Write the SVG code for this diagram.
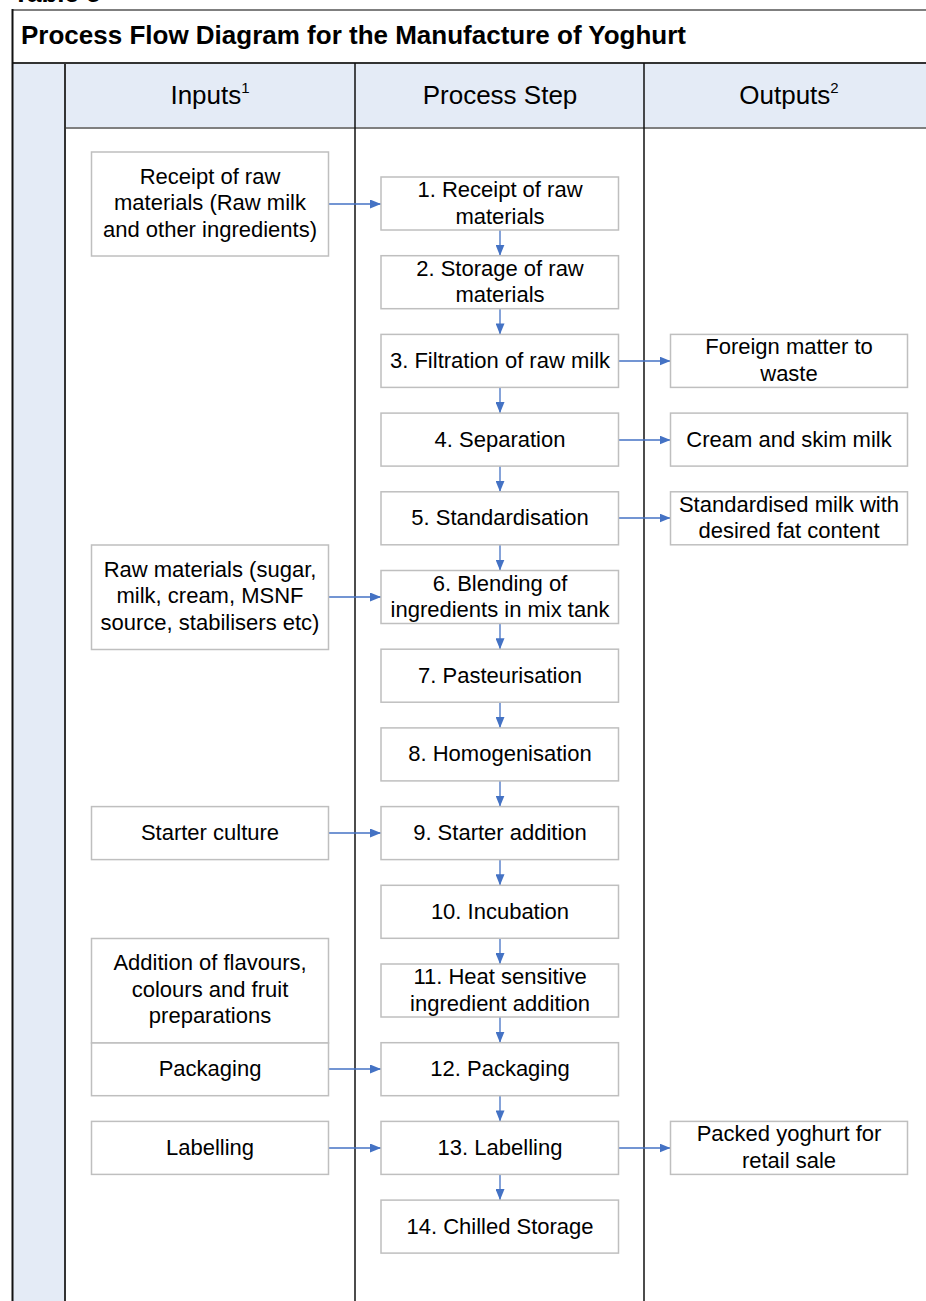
<svg xmlns="http://www.w3.org/2000/svg" width="926" height="1301" viewBox="0 0 926 1301">
<style>
.t{font-family:"Liberation Sans",Arial,sans-serif;font-size:22px;fill:#000;text-anchor:middle}
.h{font-family:"Liberation Sans",Arial,sans-serif;font-size:26px;fill:#000;text-anchor:middle}
.sup{font-size:15px}
.ttl{font-family:"Liberation Sans",Arial,sans-serif;font-size:26px;font-weight:bold;fill:#000}
.box{fill:#fff;stroke:#BFBFBF;stroke-width:1.5}
.c{stroke:#4472C4;stroke-width:1.3;fill:none;marker-end:url(#ah)}
</style>
<defs>
<marker id="ah" markerUnits="userSpaceOnUse" markerWidth="11" markerHeight="9" refX="11" refY="4.5" orient="auto">
<path d="M0,0 L11,4.5 L0,9 z" fill="#4472C4"/>
</marker>
</defs>
<rect width="926" height="1301" fill="#fff"/>
<text class="ttl" x="13" y="2">Table 5</text>
<g id="table">
<rect x="12" y="63" width="53" height="1238" fill="#E4EBF6"/>
<rect x="65" y="63" width="861" height="65" fill="#E4EBF6"/>
<line x1="12" y1="10" x2="926" y2="10" stroke="#7F7F7F" stroke-width="2"/>
<line x1="12" y1="63" x2="926" y2="63" stroke="#333" stroke-width="2"/>
<line x1="65" y1="128" x2="926" y2="128" stroke="#7F7F7F" stroke-width="2"/>
<line x1="12.5" y1="9" x2="12.5" y2="1301" stroke="#111" stroke-width="2"/>
<line x1="65" y1="63" x2="65" y2="1301" stroke="#333" stroke-width="2"/>
<line x1="355" y1="63" x2="355" y2="1301" stroke="#111" stroke-width="1.5"/>
<line x1="644" y1="63" x2="644" y2="1301" stroke="#111" stroke-width="1.5"/>
<text class="ttl" x="21" y="44">Process Flow Diagram for the Manufacture of Yoghurt</text>
<text class="h" x="210" y="104">Inputs<tspan class="sup" dy="-11">1</tspan></text>
<text class="h" x="500" y="104">Process Step</text>
<text class="h" x="789" y="104">Outputs<tspan class="sup" dy="-11">2</tspan></text>
</g>
<g id="connectors">
<line class="c" x1="328.5" y1="204" x2="381" y2="204"/>
<line class="c" x1="328.5" y1="597" x2="381" y2="597"/>
<line class="c" x1="328.5" y1="833" x2="381" y2="833"/>
<line class="c" x1="328.5" y1="1069" x2="381" y2="1069"/>
<line class="c" x1="328.5" y1="1148" x2="381" y2="1148"/>
<line class="c" x1="618.5" y1="361" x2="670.5" y2="361"/>
<line class="c" x1="618.5" y1="440" x2="670.5" y2="440"/>
<line class="c" x1="618.5" y1="518" x2="670.5" y2="518"/>
<line class="c" x1="618.5" y1="1148" x2="670.5" y2="1148"/>
<line class="c" x1="500" y1="230" x2="500" y2="255.7"/>
<line class="c" x1="500" y1="308.7" x2="500" y2="334.4"/>
<line class="c" x1="500" y1="387.4" x2="500" y2="413.1"/>
<line class="c" x1="500" y1="466.1" x2="500" y2="491.8"/>
<line class="c" x1="500" y1="544.8" x2="500" y2="570.5"/>
<line class="c" x1="500" y1="623.5" x2="500" y2="649.2"/>
<line class="c" x1="500" y1="702.2" x2="500" y2="727.9"/>
<line class="c" x1="500" y1="780.9" x2="500" y2="806.6"/>
<line class="c" x1="500" y1="859.6" x2="500" y2="885.3"/>
<line class="c" x1="500" y1="938.3" x2="500" y2="964"/>
<line class="c" x1="500" y1="1017" x2="500" y2="1042.7"/>
<line class="c" x1="500" y1="1095.7" x2="500" y2="1121.4"/>
<line class="c" x1="500" y1="1174.4" x2="500" y2="1200.1"/>
</g>
<g id="in1"><rect class="box" x="91.5" y="152" width="237" height="104"/>
<text class="t" x="210" y="183.5">Receipt of raw</text><text class="t" x="210" y="210">materials (Raw milk</text><text class="t" x="210" y="236.5">and other ingredients)</text></g>
<g id="in2"><rect class="box" x="91.5" y="545" width="237" height="104.5"/>
<text class="t" x="210" y="576.5">Raw materials (sugar,</text><text class="t" x="210" y="603">milk, cream, MSNF</text><text class="t" x="210" y="629.5">source, stabilisers etc)</text></g>
<g id="in3"><rect class="box" x="91.5" y="806.6" width="237" height="53"/>
<text class="t" x="210" y="840">Starter culture</text></g>
<g id="in4"><rect class="box" x="91.5" y="938.5" width="237" height="104.5"/>
<text class="t" x="210" y="970">Addition of flavours,</text><text class="t" x="210" y="996.5">colours and fruit</text><text class="t" x="210" y="1023">preparations</text></g>
<g id="in5"><rect class="box" x="91.5" y="1043" width="237" height="52.7"/>
<text class="t" x="210" y="1076">Packaging</text></g>
<g id="in6"><rect class="box" x="91.5" y="1121.4" width="237" height="53"/>
<text class="t" x="210" y="1155">Labelling</text></g>
<g id="s1"><rect class="box" x="381" y="177" width="237.5" height="53"/>
<text class="t" x="500" y="197">1. Receipt of raw</text><text class="t" x="500" y="223.5">materials</text></g>
<g id="s2"><rect class="box" x="381" y="255.7" width="237.5" height="53"/>
<text class="t" x="500" y="275.7">2. Storage of raw</text><text class="t" x="500" y="302.2">materials</text></g>
<g id="s3"><rect class="box" x="381" y="334.4" width="237.5" height="53"/>
<text class="t" x="500" y="368">3. Filtration of raw milk</text></g>
<g id="s4"><rect class="box" x="381" y="413.1" width="237.5" height="53"/>
<text class="t" x="500" y="446.6">4. Separation</text></g>
<g id="s5"><rect class="box" x="381" y="491.8" width="237.5" height="53"/>
<text class="t" x="500" y="525.3">5. Standardisation</text></g>
<g id="s6"><rect class="box" x="381" y="570.5" width="237.5" height="53"/>
<text class="t" x="500" y="590.5">6. Blending of</text><text class="t" x="500" y="617">ingredients in mix tank</text></g>
<g id="s7"><rect class="box" x="381" y="649.2" width="237.5" height="53"/>
<text class="t" x="500" y="682.7">7. Pasteurisation</text></g>
<g id="s8"><rect class="box" x="381" y="727.9" width="237.5" height="53"/>
<text class="t" x="500" y="761.4">8. Homogenisation</text></g>
<g id="s9"><rect class="box" x="381" y="806.6" width="237.5" height="53"/>
<text class="t" x="500" y="840.1">9. Starter addition</text></g>
<g id="s10"><rect class="box" x="381" y="885.3" width="237.5" height="53"/>
<text class="t" x="500" y="918.8">10. Incubation</text></g>
<g id="s11"><rect class="box" x="381" y="964" width="237.5" height="53"/>
<text class="t" x="500" y="984">11. Heat sensitive</text><text class="t" x="500" y="1010.5">ingredient addition</text></g>
<g id="s12"><rect class="box" x="381" y="1042.7" width="237.5" height="53"/>
<text class="t" x="500" y="1076.2">12. Packaging</text></g>
<g id="s13"><rect class="box" x="381" y="1121.4" width="237.5" height="53"/>
<text class="t" x="500" y="1154.9">13. Labelling</text></g>
<g id="s14"><rect class="box" x="381" y="1200.1" width="237.5" height="53"/>
<text class="t" x="500" y="1233.6">14. Chilled Storage</text></g>
<g id="o1"><rect class="box" x="670.5" y="334.4" width="237" height="53"/>
<text class="t" x="789" y="354.4">Foreign matter to</text><text class="t" x="789" y="380.9">waste</text></g>
<g id="o2"><rect class="box" x="670.5" y="413.1" width="237" height="53"/>
<text class="t" x="789" y="446.6">Cream and skim milk</text></g>
<g id="o3"><rect class="box" x="670.5" y="491.8" width="237" height="53"/>
<text class="t" x="789" y="511.8">Standardised milk with</text><text class="t" x="789" y="538.3">desired fat content</text></g>
<g id="o4"><rect class="box" x="670.5" y="1121.4" width="237" height="53"/>
<text class="t" x="789" y="1141.4">Packed yoghurt for</text><text class="t" x="789" y="1167.9">retail sale</text></g>
</svg>
